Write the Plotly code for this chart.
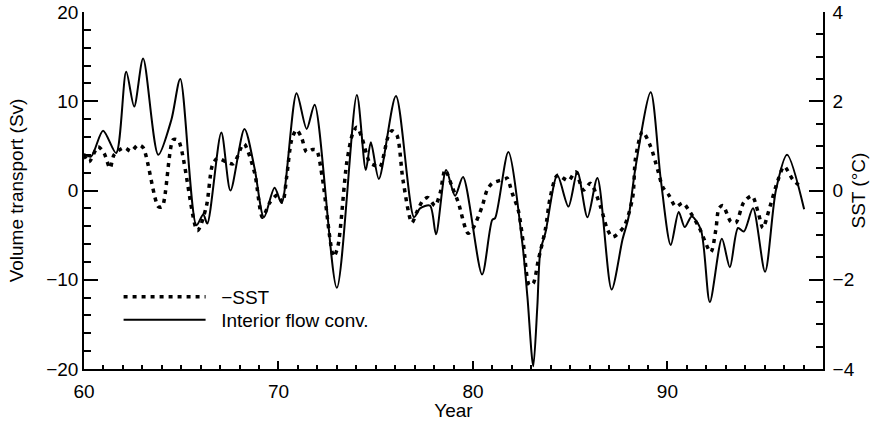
import plotly.graph_objects as go

# Interior flow convergence (Sv), solid line, left axis
years_flow = [60.00, 60.36, 60.98, 61.65, 62.17, 62.58, 63.04, 63.82, 64.49, 64.95,
              65.78, 66.13, 66.34, 67.06, 67.53, 68.25, 68.77, 69.25, 69.80, 70.16,
              70.93, 71.45, 71.86, 73.00, 74.03, 74.49, 74.75, 75.16, 76.04, 76.97,
              77.28, 77.79, 78.10, 78.62, 79.08, 79.49, 80.47, 80.99, 81.14, 81.82,
              82.54, 82.80, 83.10, 83.31, 83.47, 83.72, 84.34, 84.91, 85.37, 85.89,
              86.40, 87.13, 87.69, 88.00, 88.36, 89.14, 89.66, 90.17, 90.58, 90.89,
              91.25, 91.72, 92.18, 92.80, 93.21, 93.63, 93.93, 94.40, 95.02, 95.58,
              96.15, 97.03]
flow_sv = [4.1, 3.8, 6.7, 4.2, 13.3, 9.4, 14.8, 4.0, 7.9, 12.5,
           -3.9, -2.7, -3.7, 6.5, 0.0, 6.9, 2.5, -3.0, 0.3, -1.4,
           10.9, 6.9, 9.6, -10.9, 10.7, 2.3, 5.4, 1.3, 10.6, -3.0,
           -2.0, -1.7, -4.9, 2.3, -0.6, 1.5, -9.4, -3.3, -3.1, 4.3,
           -5.9, -11.9, -19.7, -13.0, -6.7, -4.8, 1.7, -1.8, 2.1, -3.0,
           1.4, -11.1, -5.5, -3.0, 2.6, 11.0, 1.2, -6.1, -2.4, -4.1,
           -2.9, -4.4, -12.5, -5.4, -8.6, -4.2, -4.6, -2.0, -9.1, 0.05,
           4.0, -2.1]

# -SST (deg C), dotted line, right axis
years_sst = [60.00, 60.26, 60.72, 61.03, 61.34, 61.55, 62.06, 62.42, 62.78, 63.04,
             63.82, 64.02, 64.59, 64.85, 65.83, 66.29, 66.60, 66.86, 67.32, 67.68,
             68.15, 68.25, 68.77, 69.18, 69.54, 69.95, 70.21, 70.42, 70.68, 70.93,
             71.19, 71.45, 71.76, 71.96, 72.27, 72.84, 73.05, 73.51, 73.82, 74.03,
             74.29, 74.70, 74.96, 75.21, 75.63, 75.83, 76.09, 76.40, 76.86, 77.12,
             77.43, 77.69, 78.05, 78.31, 78.57, 78.93, 79.24, 79.75, 80.01, 80.47,
             80.73, 80.99, 81.66, 81.76, 82.02, 82.33, 82.59, 82.90, 83.10, 83.36,
             83.72, 83.98, 84.34, 84.91, 85.27, 85.68, 86.04, 86.56, 86.92, 87.18,
             87.75, 88.21, 88.36, 88.72, 89.14, 89.50, 89.76, 90.07, 90.43, 90.79,
             91.10, 91.62, 92.23, 92.49, 92.65, 92.85, 93.26, 93.52, 93.93, 94.35,
             94.66, 94.91, 95.22, 95.69, 96.00, 96.46, 96.87]
minus_sst_c = [0.80, 0.64, 0.98, 0.84, 0.50, 0.80, 0.96, 0.88, 1.02, 0.96,
               -0.36, -0.36, 1.14, 1.12, -0.90, -0.36, 0.56, 0.72, 0.64, 0.60,
               1.02, 1.04, 0.40, -0.60, -0.28, -0.10, -0.26, 0.30, 1.14, 1.36,
               1.18, 0.86, 0.92, 0.90, 0.24, -1.48, -1.26, 0.62, 1.28, 1.42,
               1.18, 0.62, 0.56, 0.52, 1.20, 1.34, 1.24, 0.24, -0.72, -0.48,
               -0.22, -0.16, -0.34, -0.06, 0.46, 0.08, -0.26, -0.96, -0.84, -0.36,
               0.01, 0.16, 0.26, 0.28, -0.06, -0.44, -1.18, -2.12, -2.08, -1.56,
               -0.88, -0.14, 0.34, 0.22, 0.42, 0.01, 0.16, -0.36, -0.88, -1.04,
               -0.82, -0.16, 0.72, 1.32, 0.98, 0.46, 0.08, -0.10, -0.36, -0.28,
               -0.44, -0.82, -1.38, -0.88, -0.40, -0.34, -0.70, -0.72, -0.26, -0.12,
               -0.48, -0.84, -0.44, 0.24, 0.54, 0.24, 0.08]

FONT = "Liberation Sans, Arial, sans-serif"
PAD = "\u00a0\u00a0"

fig = go.Figure()
fig.add_trace(go.Scatter(
    x=years_sst, y=minus_sst_c, yaxis="y2", name=PAD + "−SST", mode="lines",
    legend="legend",
    line=dict(color="black", width=3.5, dash="4px,5px", shape="spline", smoothing=0.8),
))
fig.add_trace(go.Scatter(
    x=years_flow, y=flow_sv, name=PAD + "Interior flow conv.", mode="lines",
    legend="legend2",
    line=dict(color="black", width=2, shape="spline", smoothing=0.8),
))

axis_common = dict(
    showgrid=False, zeroline=False, showline=True, linecolor="black", linewidth=1.5,
    ticks="inside", tickcolor="black", tickwidth=1.5, automargin=False,
    tickfont=dict(family=FONT, size=19, color="black"),
)
legend_common = dict(
    xanchor="left", yanchor="middle",
    bgcolor="rgba(0,0,0,0)", borderwidth=0,
    font=dict(family=FONT, size=19, color="black"),
    itemwidth=82,
)

fig.update_layout(
    width=875, height=421,
    margin=dict(l=84, r=52, t=12, b=52, autoexpand=False),
    paper_bgcolor="white", plot_bgcolor="white",
    font=dict(family=FONT, color="black"),
    showlegend=True,
    legend=dict(x=0.0468, y=0.2017, **legend_common),
    legend2=dict(x=0.0468, y=0.1373, **legend_common),
    xaxis=dict(
        range=[60, 98], tick0=60, dtick=10, ticklen=8, ticklabelstandoff=4,
        minor=dict(ticks="inside", ticklen=4, dtick=1, tickcolor="black", tickwidth=1.5),
        title=dict(text="Year", font=dict(family=FONT, size=19), standoff=8),
        **axis_common,
    ),
    yaxis=dict(
        range=[-20, 20], tick0=0, dtick=10, ticklen=14,
        minor=dict(ticks="inside", ticklen=7, dtick=2, tickcolor="black", tickwidth=1.5),
        title=dict(text="Volume transport (Sv)", font=dict(family=FONT, size=19), standoff=18),
        **axis_common,
    ),
    yaxis2=dict(
        range=[-4, 4], tick0=0, dtick=2, ticklen=14, overlaying="y", side="right",
        ticklabelstandoff=4,
        minor=dict(ticks="inside", ticklen=7, dtick=0.5, tickcolor="black", tickwidth=1.5),
        **axis_common,
    ),
    annotations=[dict(
        text="SST (°C)", textangle=-90, showarrow=False,
        xref="paper", yref="paper", x=1.0474, y=0.5, xanchor="center", yanchor="middle",
        font=dict(family=FONT, size=19, color="black"),
    )],
)

fig.write_html("out.html")
